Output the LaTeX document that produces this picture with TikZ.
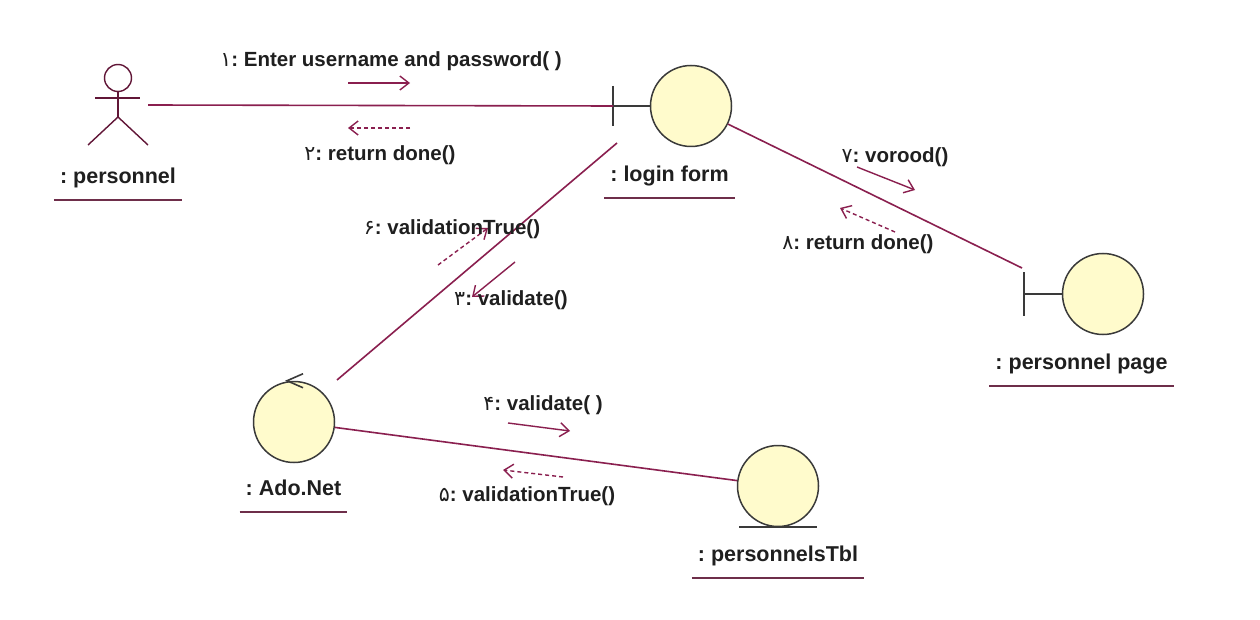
\documentclass[tikz,border=0pt]{standalone}
\usepackage{fontspec}
\setmainfont{Liberation Sans}
\newfontfamily\digfont{DejaVu Sans}
\usepackage{xcolor}
\usetikzlibrary{positioning,arrows.meta,calc}
\definecolor{cLink}{HTML}{8A1F4F}
\definecolor{cFill}{HTML}{FFFBCC}
\definecolor{cEdge}{HTML}{3A3A3A}
\definecolor{cLine}{HTML}{6E2E4A}
\newcommand{\pn}[1]{{\digfont\mdseries #1}}
\frenchspacing

\begin{document}
\begin{tikzpicture}[
  x=1pt, y=-1pt,
  link/.style ={draw=cLink, line width=1.6pt},
  call/.style ={draw=cLink, line width=1.4pt, -{Straight Barb[length=9pt,width=14pt]}},
  reply/.style={call, dash pattern=on 4pt off 3pt},
  obj/.style  ={circle, draw=cEdge, fill=cFill, line width=1.5pt, minimum size=81pt, inner sep=0pt},
  icon/.style ={draw=cEdge, line width=1.6pt},
  stick/.style={draw=cLink!70!black, line width=1.4pt},
  msg/.style  ={font=\fontsize{20.5}{24}\selectfont\bfseries, text=black!88, inner sep=0pt},
  olbl/.style ={font=\fontsize{21.5}{26}\selectfont\bfseries, text=black!88,
                inner xsep=6pt, inner ysep=11.5pt, text height=16pt, text depth=5pt},
  uline/.style={draw=cLine, line width=1.6pt},
]
\path[use as bounding box, fill=white] (0,0) rectangle (1260,620);

% objects
\node[minimum width=60pt, minimum height=82pt, inner sep=0pt] (actor) at (118,105) {};
\node[obj] (login) at (691,106)  {};
\node[obj] (page)  at (1103,294) {};
\node[obj] (ado)   at (294,422)  {};
\node[obj] (tbl)   at (778,486)  {};

% actor figure
\draw[stick] ($(actor)+(0,-27)$) circle[radius=13.5pt];
\draw[stick] ($(actor)+(0,-13)$) -- ($(actor)+(0,12)$);
\draw[stick] ($(actor)+(-23,-7)$) -- ($(actor)+(22,-7)$);
\draw[stick] ($(actor)+(-30,40)$) -- ($(actor)+(0,12)$) -- ($(actor)+(30,40)$);

% boundary, control and entity marks
\coordinate (lgbar) at ($(login)+(-78,0)$);
\coordinate (pgbar) at ($(page)+(-79,0)$);
\draw[icon] ($(lgbar)+(0,-20)$) -- ($(lgbar)+(0,20)$);
\draw[icon] (lgbar) -- (login.west);
\draw[icon] ($(pgbar)+(0,-22)$) -- ($(pgbar)+(0,22)$);
\draw[icon] (pgbar) -- (page.west);
\draw[icon] ($(ado.north)+(9,-7)$) -- ($(ado.north)+(-7,0)$) -- ($(ado.north)+(9,7)$);
\draw[icon] ($(tbl.south)+(-39,0)$) -- ($(tbl.south)+(39,0)$);

% links
\coordinate (pgin)  at ($(pgbar)+(-2,-26)$);
\coordinate (lgout) at ($(login)+(-74,37)$);
\coordinate (adin)  at ($(ado)+(43,-42)$);
\draw[link] (actor.east) -- (lgbar);
\draw[link] (login) -- (pgin);
\draw[link] (lgout) -- (adin);
\draw[link] (ado) -- (tbl);

% messages
\coordinate (m1-a) at (348,83);  \coordinate (m1-b) at (410,83);
\coordinate (m2-a) at (410,128); \coordinate (m2-b) at (348,128);
\coordinate (m3-a) at (515,262); \coordinate (m3-b) at (472,297);
\coordinate (m4-a) at (508,423); \coordinate (m4-b) at (570,431);
\coordinate (m5-a) at (563,477); \coordinate (m5-b) at (503,470);
\coordinate (m6-a) at (438,265); \coordinate (m6-b) at (488,228);
\coordinate (m7-a) at (857,167); \coordinate (m7-b) at (915,190);
\coordinate (m8-a) at (895,232); \coordinate (m8-b) at (840,208);
\foreach \m in {1,3,4,7}{\draw[call]  (m\m-a) -- (m\m-b);}
\foreach \m in {2,5,6,8}{\draw[reply] (m\m-a) -- (m\m-b);}

\node[msg] (t1) at (391,61)  {\pn{۱}: Enter username and password( )};
\node[msg] (t2) at (380,155) {\pn{۲}: return done()};
\node[msg] (t6) at (452,229) {\pn{۶}: validationTrue()};
\node[msg] (t3) at (511,300) {\pn{۳}: validate()};
\node[msg] (t7) at (895,157) {\pn{۷}: vorood()};
\node[msg] (t8) at (858,244) {\pn{۸}: return done()};
\node[msg] (t4) at (543,405) {\pn{۴}: validate( )};
\node[msg] (t5) at (527,496) {\pn{۵}: validationTrue()};

% object names
\node[olbl] (actorlbl) at (118,178)    {: personnel};
\node[olbl] (loginlbl) at (669.5,176)  {: login form};
\node[olbl] (pagelbl)  at (1081.5,364) {: personnel page};
\node[olbl] (adolbl)   at (293.5,490)  {: Ado.Net};
\node[olbl] (tbllbl)   at (778,556)    {: personnelsTbl};
\foreach \l in {actorlbl,loginlbl,pagelbl,adolbl,tbllbl}{\draw[uline] (\l.south west) -- (\l.south east);}
\end{tikzpicture}
\end{document}
